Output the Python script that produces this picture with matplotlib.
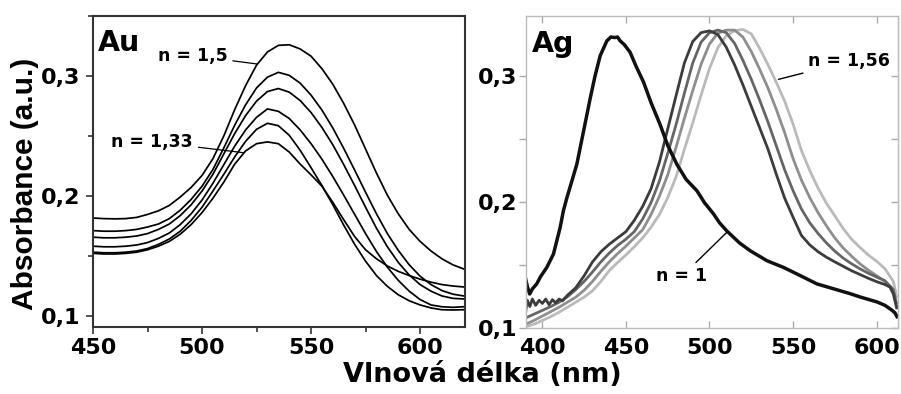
import matplotlib.pyplot as plt
from matplotlib.ticker import MultipleLocator

# --- Au panel: absorbance for six refractive indices (n = 1,33 ... 1,5) ---
au_nm = list(range(450, 621, 5))
au_c1 = [.1815, .181, .1808, .181, .182, .1845, .1875, .192, .199, .207, .217, .231, .250, .272, .292, .309, .320,
         .3255, .326, .3225, .3165, .306, .293, .277, .259, .239, .219, .2005, .185, .172, .162, .154, .1475, .1425, .139]
au_c2 = [.171, .1705, .1705, .171, .172, .174, .1765, .181, .188, .197, .208, .222, .240, .259, .276, .290, .299,
         .303, .3005, .294, .284, .2715, .2565, .2395, .2215, .203, .185, .1685, .1545, .1425, .133, .126, .121, .118, .1165]
au_c3 = [.1655, .165, .165, .1655, .1665, .1685, .172, .1765, .1835, .1925, .204, .218, .235, .252, .267, .279, .287,
         .2895, .2865, .2795, .2695, .257, .2425, .226, .2085, .1905, .173, .1575, .1445, .134, .126, .1205, .1165, .1145, .114]
au_c4 = [.158, .1575, .1575, .158, .159, .161, .1645, .169, .176, .185, .1965, .2105, .226, .2415, .255, .2655, .2725,
         .2705, .2645, .255, .2435, .2305, .216, .2005, .1845, .1685, .1535, .1405, .1295, .1205, .1135, .109, .1075, .107, .1075]
au_c5 = [.153, .1525, .1525, .153, .154, .156, .1595, .164, .1705, .1795, .1905, .204, .218, .2325, .2455, .2555, .2605,
         .2585, .2505, .238, .2235, .2085, .1925, .1755, .1595, .1455, .1335, .1245, .1175, .1125, .109, .1065, .105, .1048, .105]
au_c6 = [.152, .1515, .1515, .152, .153, .155, .158, .162, .168, .176, .186, .198, .2115, .2265, .2375, .2435, .245,
         .2435, .2365, .2265, .2175, .208, .1945, .18, .166, .155, .1475, .1415, .137, .1335, .1305, .128, .126, .1248, .124]

# --- Ag panel ---
ag_nm = list(range(390, 611, 5)) + [612]
ag_light = [.101, .103, .106, .109, .1125, .1165, .1205, .1245, .1295, .137, .1455, .152, .158, .1645, .1715, .18,
            .19, .2035, .22, .242, .263, .285, .306, .3225, .332, .336, .337, .3335, .322, .309, .295, .28, .262, .241,
            .225, .211, .199, .189, .179, .1705, .164, .158, .153, .147, .137, .125]
ag_mid2 = [.103, .106, .1095, .113, .1165, .1205, .1245, .13, .137, .145, .1525, .159, .165, .1715, .178, .19,
           .2045, .2215, .2435, .2665, .2885, .3095, .3255, .334, .3365, .3365, .331, .3195, .3055, .2905, .2735, .255,
           .2345, .2175, .2035, .1915, .181, .1715, .1635, .157, .151, .146, .1415, .137, .13, .12]
ag_mid1 = [.108, .111, .114, .117, .1205, .1248, .1305, .137, .1445, .1525, .1595, .1655, .1705, .1765, .1865, .1995,
           .2165, .2385, .2615, .2865, .3105, .327, .3345, .3365, .3345, .326, .3125, .2975, .281, .2635, .2445, .2255,
           .209, .1945, .1835, .175, .1675, .161, .1555, .151, .147, .1435, .1405, .1375, .1305, .117]
ag_dark_nm = [390, 391, 392.5, 394, 396, 398, 400, 402, 404, 406, 408, 410, 412, 415, 420, 425, 430, 435, 440, 445,
              450, 455, 460, 465, 470, 475, 480, 485, 490, 495, 500, 505, 510, 515, 520, 525, 530, 535, 540, 545,
              550, 555, 560, 565, 570, 575, 580, 585, 590, 595, 600, 605, 608, 610, 612]
ag_dark = [.113, .122, .117, .123, .118, .122, .1195, .123, .1185, .1225, .12, .123, .1215, .126, .132, .1415, .1525,
           .1605, .1665, .1715, .1765, .1855, .1965, .2105, .2315, .258, .2845, .3105, .3275, .3345, .3359, .333, .323,
           .309, .293, .276, .259, .242, .222, .203, .188, .1735, .166, .1605, .1562, .1525, .149, .1455, .1425, .1395,
           .1368, .1345, .1325, .127, .116]
ag_n1_nm = [390, 391, 392.4, 394, 396.6, 399, 402.6, 406.6, 410.6, 412.6, 414.6, 420.6, 424.6, 428.6, 431.5, 434.6,
            438.6, 441, 443.5, 445, 446.5, 449, 452.5, 456, 460.5, 465, 470.5, 475, 480.5, 486, 492.5, 497, 502.4, 506,
            510.4, 514, 518, 524.4, 534.4, 544.3, 554.3, 564.3, 574.3, 584.3, 590.2, 600.2, 605, 609.2, 611, 612.2]
ag_n1 = [.139, .133, .127, .131, .135, .141, .148, .1586, .1796, .1932, .2031, .2299, .256, .2822, .300, .3162, .328,
         .331, .3306, .331, .328, .325, .3189, .308, .2953, .279, .2613, .245, .2299, .218, .2089, .1995, .1906, .1835,
         .177, .1725, .1675, .1613, .1534, .1481, .1416, .135, .1311, .1272, .1246, .1207, .118, .1141, .112, .109]

au_xticks = [450, 500, 550, 600]
ag_xticks = [400, 450, 500, 550, 600]
y_ticks = [0.1, 0.2, 0.3]
y_labels = ['0,1', '0,2', '0,3']

plt.rcParams['font.family'] = 'DejaVu Sans'
plt.rcParams['font.weight'] = 'bold'

fig = plt.figure(figsize=(9.01, 3.94), dpi=100)
ax1 = fig.add_axes([93 / 901, 1 - 327 / 394, 372 / 901, 311 / 394])
ax2 = fig.add_axes([526 / 901, 1 - 328 / 394, 372 / 901, 312 / 394])

# === Au ===
for c in [au_c1, au_c2, au_c3, au_c4, au_c5, au_c6]:
    ax1.plot(au_nm, c, color='black', lw=1.25)
ax1.set_xlim(450, 620.6)
ax1.set_ylim(0.0906, 0.350)
ax1.set_xticks(au_xticks)
ax1.set_yticks(y_ticks, y_labels)
ax1.xaxis.set_minor_locator(MultipleLocator(25))
ax1.yaxis.set_minor_locator(MultipleLocator(0.05))
ax1.tick_params(which='both', direction='out', color='#333333', width=1.2, labelsize=16)
ax1.tick_params(which='major', length=5)
ax1.tick_params(which='minor', length=3.5)
ax1.tick_params(axis='x', pad=3)
ax1.tick_params(axis='y', pad=4)
for s in ax1.spines.values():
    s.set_color('#333333')
    s.set_linewidth(1.5)
ax1.text(0.012, 0.958, 'Au', transform=ax1.transAxes, ha='left', va='top', fontsize=20.5)
ax1.annotate('n = 1,5', xy=(525.1, 0.310), xytext=(495.6, 0.317), ha='center', va='center', fontsize=12.5,
             arrowprops=dict(arrowstyle='-', lw=0.9, color='black', shrinkA=2, shrinkB=0))
ax1.annotate('n = 1,33', xy=(518.9, 0.236), xytext=(477.1, 0.2452), ha='center', va='center', fontsize=12.5,
             arrowprops=dict(arrowstyle='-', lw=0.9, color='black', shrinkA=2, shrinkB=0))

# === Ag ===
ax2.plot(ag_nm, ag_light, color='#bababa', lw=2.0)
ax2.plot(ag_nm, ag_mid2, color='#8e8e8e', lw=2.0)
ax2.plot(ag_nm, ag_mid1, color='#666666', lw=2.0)
ax2.plot(ag_dark_nm, ag_dark, color='#3c3c3c', lw=2.0)
ax2.plot(ag_n1_nm, ag_n1, color='#111111', lw=2.5)
ax2.set_xlim(390.2, 612.8)
ax2.set_ylim(0.1026, 0.3477)
ax2.set_xticks(ag_xticks)
ax2.set_yticks(y_ticks, y_labels)
ax2.yaxis.set_minor_locator(MultipleLocator(0.05))
ax2.tick_params(axis='x', which='both', direction='in', top=True, bottom=True, color='#aaaaaa',
                length=5, width=1, labelsize=16, pad=7)
ax2.tick_params(axis='y', which='both', direction='out', color='#aaaaaa', length=5, width=1,
                labelsize=16, pad=1)
sec = ax2.secondary_yaxis('right')
sec.set_yticks(y_ticks)
sec.yaxis.set_minor_locator(MultipleLocator(0.05))
sec.tick_params(which='both', direction='in', color='#aaaaaa', length=5, width=1, labelright=False)
sec.spines['right'].set_color('#bbbbbb')
for s in ax2.spines.values():
    s.set_color('#bbbbbb')
    s.set_linewidth(1.0)
ax2.text(0.015, 0.955, 'Ag', transform=ax2.transAxes, ha='left', va='top', fontsize=20.5)
ax2.annotate('n = 1,56', xy=(541.3, 0.2974), xytext=(583.7, 0.3118), ha='center', va='center', fontsize=12.5,
             arrowprops=dict(arrowstyle='-', lw=1.0, color='black', shrinkA=2, shrinkB=0))
ax2.annotate('n = 1', xy=(510.4, 0.176), xytext=(483.5, 0.1411), ha='center', va='center', fontsize=12.5,
             arrowprops=dict(arrowstyle='-', lw=1.0, color='black', shrinkA=2, shrinkB=0))

fig.text(25.5 / 901, 1 - 183.5 / 394, 'Absorbance (a.u.)', rotation=90, ha='center', va='center',
         fontsize=21.5, family='Liberation Sans', weight='bold')
fig.text(482.5 / 901, 1 - 375 / 394, 'Vlnová délka (nm)', ha='center', va='center', fontsize=19.5)

fig.savefig('out.png', dpi=100)
